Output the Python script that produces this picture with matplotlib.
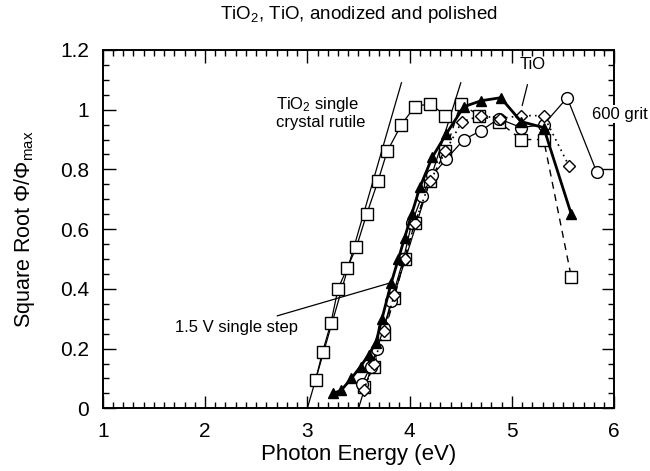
import numpy as np
import matplotlib
matplotlib.use('Agg')
from matplotlib import pyplot as plt
from matplotlib.ticker import MultipleLocator

plt.rcParams['font.family'] = ['Liberation Sans', 'DejaVu Sans']
plt.rcParams['mathtext.fontset'] = 'custom'
plt.rcParams['mathtext.rm'] = 'Liberation Sans'
plt.rcParams['mathtext.it'] = 'Liberation Sans:italic'

# TiO2 single crystal rutile (open squares, thin line)
rut_x = [3.08, 3.15, 3.23, 3.30, 3.39, 3.48, 3.58, 3.69, 3.78, 3.92, 4.05, 4.20, 4.35]
rut_y = [0.094, 0.19, 0.285, 0.40, 0.47, 0.54, 0.65, 0.76, 0.86, 0.95, 1.01, 1.02, 0.98]

# anodized, squares with dashed line
sq_x = [3.55, 3.65, 3.75, 3.85, 3.95, 4.05, 4.20, 4.35, 4.50, 4.68, 4.87, 5.09, 5.31, 5.58]
sq_y = [0.07, 0.14, 0.25, 0.37, 0.50, 0.62, 0.76, 0.86, 1.02, 0.98, 0.96, 0.90, 0.90, 0.44]

# 1.5 V single step (filled triangles, thick line)
tri_x = [3.25, 3.33, 3.43, 3.52, 3.60, 3.67, 3.73, 3.82, 3.89, 3.95, 4.02, 4.10, 4.22, 4.36, 4.53, 4.70, 4.89, 5.09, 5.31, 5.58]
tri_y = [0.05, 0.06, 0.10, 0.14, 0.18, 0.22, 0.30, 0.42, 0.50, 0.57, 0.65, 0.74, 0.84, 0.92, 1.01, 1.03, 1.04, 0.96, 0.94, 0.65]

# 600 grit (open circles, thin line)
cir_x = [3.53, 3.62, 3.68, 3.75, 3.82, 3.94, 4.02, 4.12, 4.22, 4.36, 4.53, 4.70, 4.87, 5.09, 5.31, 5.54, 5.83]
cir_y = [0.08, 0.14, 0.20, 0.27, 0.36, 0.50, 0.62, 0.71, 0.78, 0.835, 0.90, 0.93, 0.97, 0.94, 0.95, 1.04, 0.79]

# TiO (open diamonds, dotted line)
dia_x = [3.55, 3.65, 3.75, 3.85, 3.95, 4.05, 4.20, 4.35, 4.51, 4.70, 4.88, 5.09, 5.31, 5.56]
dia_y = [0.06, 0.15, 0.26, 0.38, 0.50, 0.62, 0.76, 0.86, 0.96, 0.98, 0.97, 0.98, 0.98, 0.81]

# straight-line fits
fit1_x = [3.0, 3.92]
fit1_y = [0.0, 1.09]
fit2_x = [3.5, 4.5]
fit2_y = [0.0, 1.09]

fig = plt.figure(figsize=(6.5, 4.71), dpi=100)
ax = fig.add_axes([0.158, 0.133, 0.787, 0.761])

ax.plot(fit1_x, fit1_y, color='black', lw=0.9)
ax.plot(fit2_x, fit2_y, color='black', lw=0.9)

ax.plot(rut_x, rut_y, color='black', lw=0.9, marker='s', ms=8, mfc='white', mec='black', mew=1.0)
ax.plot(sq_x, sq_y, color='black', lw=1.0, ls=(0, (5, 4)), marker='s', ms=8, mfc='white', mec='black', mew=1.0)
ax.plot(cir_x, cir_y, color='black', lw=0.9, marker='o', ms=8.5, mfc='white', mec='black', mew=1.0)
ax.plot(dia_x, dia_y, color='black', lw=1.2, ls=(0, (1, 2.5)), marker='D', ms=6, mfc='white', mec='black', mew=1.0)
ax.plot(tri_x, tri_y, color='black', lw=2.0, marker='^', ms=7.5, mfc='black', mec='black')

ax.set_xlim(1, 6)
ax.set_ylim(0, 1.2)
ax.xaxis.set_major_locator(MultipleLocator(1))
ax.xaxis.set_minor_locator(MultipleLocator(0.1))
ax.yaxis.set_major_locator(MultipleLocator(0.2))
ax.yaxis.set_minor_locator(MultipleLocator(0.05))
ax.set_yticks([0, 0.2, 0.4, 0.6, 0.8, 1.0, 1.2])
ax.set_yticklabels(['0', '0.2', '0.4', '0.6', '0.8', '1', '1.2'])
ax.tick_params(which='both', direction='in', top=True, right=True, labelsize=15, width=1.0)
ax.tick_params(which='major', length=9, pad=10)
ax.tick_params(which='minor', length=4.5)
for s in ax.spines.values():
    s.set_linewidth(1.4)

ax.set_xlabel('Photon Energy (eV)', fontsize=16, labelpad=2)
ax.set_ylabel(r'Square Root $\Phi/\Phi_{\rm max}$', fontsize=15.5, labelpad=16)
ax.set_title(r'TiO$_2$, TiO, anodized and polished', fontsize=13.5, pad=22)

# annotations
ax.text(2.69, 0.99, 'TiO$_2$ single\ncrystal rutile', fontsize=12, ha='left', va='center', linespacing=1.05)
ax.annotate('1.5 V single step', xy=(3.81, 0.42), xytext=(2.91, 0.27),
            fontsize=12, ha='right', va='center',
            arrowprops=dict(arrowstyle='-', color='black', lw=0.9, shrinkA=4, shrinkB=0))
ax.annotate('TiO', xy=(5.09, 1.0), xytext=(5.2, 1.15),
            fontsize=12, ha='center', va='center',
            arrowprops=dict(arrowstyle='-', color='black', lw=0.9, shrinkA=7, shrinkB=3))
ax.text(5.78, 0.985, '600 grit', fontsize=12, ha='left', va='center', clip_on=False, zorder=10,
        bbox=dict(facecolor='white', edgecolor='none', pad=1))

plt.savefig('out.png', dpi=100)
